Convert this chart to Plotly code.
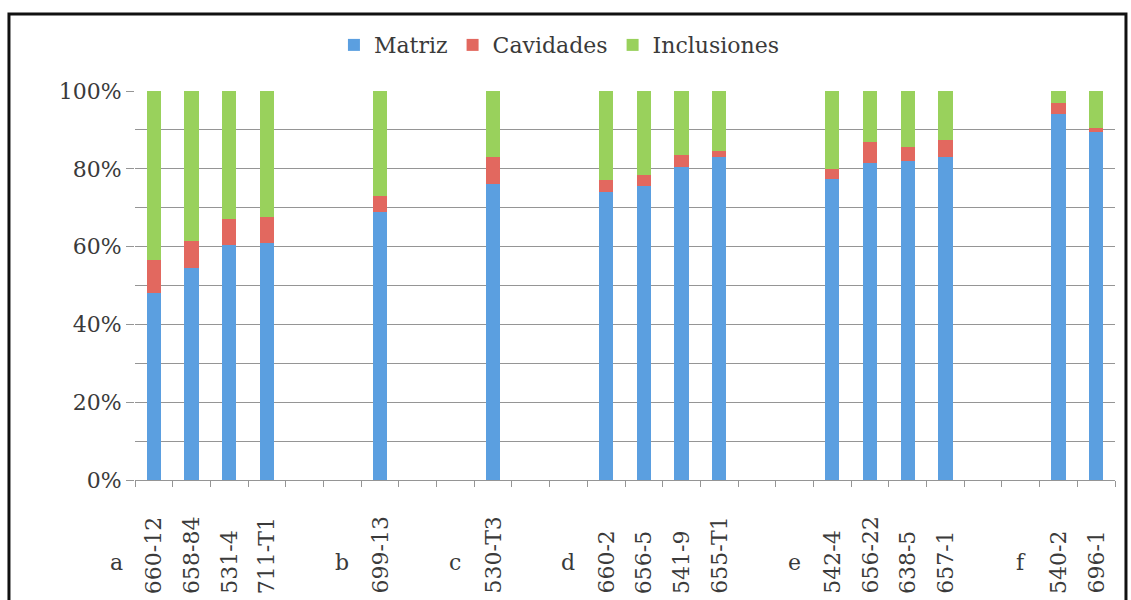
import plotly.graph_objects as go

# Sample groups and their sample codes
group_letters = ["a", "b", "c", "d", "e", "f"]
group_samples = [
    ["660-12", "658-84", "531-4", "711-T1"],
    ["699-13"],
    ["530-T3"],
    ["660-2", "656-5", "541-9", "655-T1"],
    ["542-4", "656-22", "638-5", "657-1"],
    ["540-2", "696-1"],
]

# Percentages per sample (same order as the samples above)
matriz = [48.0, 54.5, 60.5, 61.0, 69.0, 76.0, 74.0, 75.5, 80.5, 83.0,
          77.5, 81.5, 82.0, 83.0, 94.0, 89.5]
cavidades = [8.5, 7.0, 6.5, 6.5, 4.0, 7.0, 3.0, 3.0, 3.0, 1.5,
             2.5, 5.5, 3.5, 4.5, 3.0, 1.0]
inclusiones = [43.5, 38.5, 33.0, 32.5, 27.0, 17.0, 23.0, 21.5, 16.5, 15.5,
               20.0, 13.0, 14.5, 12.5, 3.0, 9.5]

series_names = ["Matriz", "Cavidades", "Inclusiones"]
series_colors = ["#5b9fe0", "#e2685f", "#99d15c"]

FONT = "DejaVu Serif"
TEXT_COLOR = "#3a3a3a"
GRID_COLOR = "#959595"
GAP_SLOTS = 2
FS = 22

# Build the category axis: samples with two empty slots between groups
categories = []
sample_cats = []
group_first = []
for gi, samples in enumerate(group_samples):
    if gi > 0:
        for k in range(GAP_SLOTS):
            categories.append(f"_gap{gi}_{k}")
    group_first.append(len(categories))
    for s in samples:
        categories.append(s)
        sample_cats.append(s)
n_slots = len(categories)

fig = go.Figure()
for name, vals, color in zip(series_names, [matriz, cavidades, inclusiones], series_colors):
    fig.add_trace(go.Bar(
        x=sample_cats, y=[v / 100 for v in vals], name=name,
        marker=dict(color=color, line=dict(width=0)), width=0.38,
    ))

annotations = []
# Rotated sample labels, bottom-aligned under each bar
for s in sample_cats:
    annotations.append(dict(
        x=s, xref="x", y=-0.298, yref="paper", text=s, textangle=-90,
        showarrow=False, xanchor="center", yanchor="bottom",
        font=dict(family=FONT, size=FS, color=TEXT_COLOR),
    ))
# Group letters placed in the slot before each group (paper coords so the
# first one can sit left of the axis)
for letter, first in zip(group_letters, group_first):
    annotations.append(dict(
        x=(first - 1 + 0.5) / n_slots, xref="paper", y=-0.213, yref="paper",
        text=letter, showarrow=False, xanchor="center", yanchor="middle",
        font=dict(family=FONT, size=FS, color=TEXT_COLOR),
    ))

fig.update_layout(
    width=1131, height=600,
    margin=dict(l=135, r=16, t=91, b=120),
    barmode="stack",
    plot_bgcolor="white", paper_bgcolor="white",
    font=dict(family=FONT, size=FS, color=TEXT_COLOR),
    legend=dict(
        orientation="h", traceorder="normal",
        x=0.203, y=1.118, xanchor="left", yanchor="middle",
        font=dict(family=FONT, size=FS, color=TEXT_COLOR),
        bgcolor="rgba(0,0,0,0)",
    ),
    xaxis=dict(
        type="category", categoryorder="array", categoryarray=categories,
        range=[-0.5, n_slots - 0.5],
        showticklabels=False, ticks="outside", tickson="boundaries",
        ticklen=6, tickcolor=GRID_COLOR, tickwidth=1.2,
        showgrid=False, showline=True, linecolor=GRID_COLOR, linewidth=1.2,
        fixedrange=True,
    ),
    yaxis=dict(
        range=[0, 1], tickvals=[0, 0.2, 0.4, 0.6, 0.8, 1.0],
        ticktext=["0%", "20%", "40%", "60%", "80%", "100%"],
        ticks="outside", ticklen=8, tickcolor=GRID_COLOR, tickwidth=1.2,
        showgrid=True, gridcolor=GRID_COLOR, gridwidth=1.2,
        minor=dict(dtick=0.1, showgrid=True, gridcolor=GRID_COLOR, gridwidth=1.2),
        showline=False, zeroline=False,
        tickfont=dict(family=FONT, size=FS, color=TEXT_COLOR),
    ),
    annotations=annotations,
    shapes=[dict(
        type="rect", xref="paper", yref="paper",
        x0=-0.1286, x1=1.0112, y0=-0.32, y1=1.198,
        line=dict(color="#111111", width=3), fillcolor="rgba(0,0,0,0)",
    )],
)

fig.write_html("out.html")
